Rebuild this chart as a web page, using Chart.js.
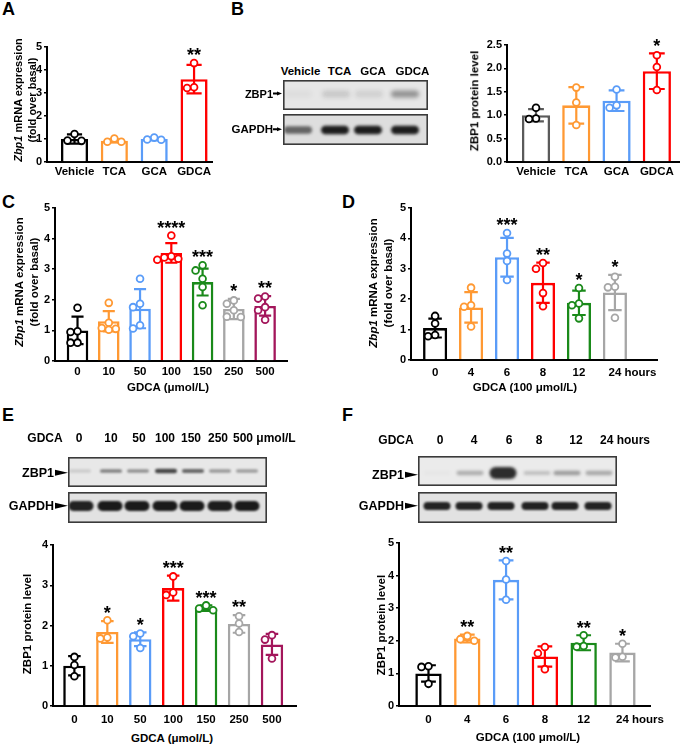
<!DOCTYPE html>
<html><head><meta charset="utf-8">
<script src="https://cdn.jsdelivr.net/npm/chart.js@4.4.0/dist/chart.umd.min.js"></script>
<style>
html,body{margin:0;padding:0;background:#fff;}
#root{position:relative;width:685px;height:746px;overflow:hidden;font-family:Arial,"Liberation Sans",Helvetica,sans-serif;font-weight:bold;color:#000;}
.t{position:absolute;white-space:nowrap;line-height:1;transform:translate(-50%,-50%);}
.r{transform:translate(-50%,-50%) rotate(-90deg);text-align:center;}
.lt{position:absolute;white-space:nowrap;line-height:1;transform:translate(0,-50%);}
.rt{position:absolute;white-space:nowrap;line-height:1;transform:translate(0,-50%);text-align:right;}
.lab{position:absolute;font-size:18px;line-height:1;}
.arr{display:inline-block;width:0;height:0;border-top:3.5px solid transparent;border-bottom:3.5px solid transparent;border-left:13px solid #000;vertical-align:middle;margin-left:1px;position:relative;top:-1px;}
.arrs{display:inline-block;width:4px;height:1.5px;background:#000;vertical-align:middle;position:relative;top:-1px;}
.arrs2{display:inline-block;width:0;height:0;border-top:2.5px solid transparent;border-bottom:2.5px solid transparent;border-left:5px solid #000;vertical-align:middle;position:relative;top:-1px;}
canvas{position:absolute;}
</style></head><body><div id="root"></div>
<script>
// ---------- DATA ----------
// Panel A: Zbp1 mRNA, bile acids
const catsA = ['Vehicle','TCA','GCA','GDCA'];
const meanA = [1.0, 0.92, 1.0, 3.6];
const sdA   = [0.2, 0.07, 0.05, 0.62];
const ptsA  = [[1.22,0.93,0.92],[1.02,0.88,0.88],[1.06,0.98,0.97],[4.3,3.25,3.22]];
const starsA = ['','','','**'];
// Panel B: ZBP1 protein, bile acids
const catsB = ['Vehicle','TCA','GCA','GDCA'];
const meanB = [1.0, 1.21, 1.31, 1.94];
const sdB   = [0.13, 0.39, 0.22, 0.38];
const ptsB  = [[1.16,0.93,0.92],[1.59,1.27,0.79],[1.55,1.21,1.16],[2.28,2.03,1.54]];
const starsB = ['','','','*'];
// Panel C: Zbp1 mRNA, GDCA dose
const catsC = ['0','10','50','100','150','250','500'];
const meanC = [1.0, 1.3, 1.71, 3.53, 2.58, 1.7, 1.8];
const sdC   = [0.45, 0.33, 0.64, 0.32, 0.44, 0.33, 0.32];
const ptsC  = [[1.74,0.97,0.95,0.6,0.6],[1.9,1.25,1.08,1.02,1.05],[2.69,1.87,1.76,1.17,1.06],[4.1,3.42,3.38,3.34,3.31],[3.13,2.96,2.69,2.42,1.82],[1.98,1.87,1.66,1.44,1.45],[2.11,2.04,1.76,1.66,1.35]];
const starsC = ['','','','****','***','*','**'];
// Panel D: Zbp1 mRNA, GDCA time
const catsD = ['0','4','6','8','12','24'];
const meanD = [1.05, 1.73, 3.38, 2.54, 1.88, 2.22];
const sdD   = [0.31, 0.5, 0.64, 0.66, 0.4, 0.58];
const ptsD  = [[1.45,1.2,0.82,0.78],[2.38,1.8,1.75,1.1],[4.18,3.5,3.26,2.63],[3.19,3.0,2.2,1.77],[2.37,1.86,1.8,1.37],[2.74,2.41,2.39,1.39]];
const starsD = ['','','***','**','*','*'];
// Panel E: ZBP1 protein, GDCA dose
const catsE = ['0','10','50','100','150','250','500'];
const meanE = [1.0, 1.84, 1.66, 2.93, 2.43, 2.04, 1.53];
const sdE   = [0.24, 0.27, 0.17, 0.31, 0.07, 0.22, 0.26];
const ptsE  = [[1.22,1.02,0.74],[2.13,1.7,1.68],[1.8,1.73,1.44],[3.22,2.82,2.76],[2.5,2.42,2.38],[2.23,2.05,1.84],[1.76,1.65,1.18]];
const starsE = ['','*','*','***','***','**',''];
// Panel F: ZBP1 protein, GDCA time
const catsF = ['0','4','6','8','12','24'];
const meanF = [1.0, 2.07, 3.87, 1.52, 1.94, 1.64];
const sdF   = [0.25, 0.12, 0.6, 0.31, 0.23, 0.27];
const ptsF  = [[1.22,1.2,0.68],[2.15,2.05,2.0],[4.45,3.88,3.26],[1.81,1.62,1.13],[2.17,1.84,1.82],[1.91,1.51,1.49]];
const starsF = ['','**','**','','**','*'];
// Western blot band intensities (0..1)
const blotB_ZBP1  = [0.04, 0.14, 0.1, 0.4];
const blotB_GAPDH = [0.6, 0.95, 0.95, 0.95];
const blotE_ZBP1  = [0.12, 0.48, 0.4, 0.75, 0.6, 0.36, 0.34];
const blotE_GAPDH = [0.93, 0.96, 0.96, 0.96, 0.96, 0.95, 0.96];
const blotF_ZBP1  = [0.02, 0.28, 0.88, 0.2, 0.36, 0.3];
const blotF_GAPDH = [0.92, 0.92, 0.93, 0.93, 0.93, 0.92];

// ---------- STYLE / LAYOUT ----------
const FONT = 'Arial, "Liberation Sans", Helvetica, sans-serif';
Chart.defaults.font.family = FONT;
Chart.defaults.color = '#000';
const BLACK='#000000', ORANGE='#FF9933', BLUE='#5A9CF8', RED='#FF0000', GREEN='#1A8A1A', GRAY='#A6A6A6', MAROON='#A3165B';
const root = document.getElementById('root');
const YW=40, PT=14, PR=22, XH=26, DOT=7;

function build(P){
  const [l,t,r,b] = P.box;
  const L=l-YW, T=t-PT, W=r-l+YW+PR, H=b-t+PT+XH;
  const cv=document.createElement('canvas');
  cv.width=W; cv.height=H;
  Object.assign(cv.style,{left:L+'px',top:T+'px',width:W+'px',height:H+'px'});
  root.appendChild(cv);
  const plotW=r-l, plotH=b-t;
  const spacing=plotW/(P.xr[1]-P.xr[0]);
  const scatter=[], scCol=[];
  P.pts.forEach((arr,i)=>{
    const placed=[];
    const order=arr.map((v,k)=>k).sort((a,c)=>arr[c]-arr[a]);
    order.forEach(k=>{
      const py=arr[k]/P.ymax*plotH;
      let ox=0;
      for(const c of [0,-1,1,-2,2]){
        const x=c*DOT;
        if(placed.every(p=>Math.hypot(p.x-x,p.y-py)>=DOT)){ox=x;break;}
      }
      placed.push({x:ox,y:py});
      scatter.push({x:i+ox/spacing,y:arr[k]});
      scCol.push(P.ptColors[i]);
    });
  });
  const tickFontX={family:FONT,size:11.5,weight:'bold'};
  new Chart(cv,{
    type:'bar',
    data:{datasets:[
      {type:'bar',data:P.mean.map((m,i)=>({x:i,y:m})),backgroundColor:'#ffffff',borderColor:P.colors,
       borderWidth:2.6,borderSkipped:'bottom',barPercentage:P.bar,categoryPercentage:1,order:2},
      {type:'scatter',data:scatter,pointRadius:3.4,pointHoverRadius:3.4,pointBorderWidth:1.8,
       pointBackgroundColor:'#ffffff',pointBorderColor:scCol,order:1}
    ]},
    options:{
      responsive:false,animation:false,events:[],
      layout:{padding:{top:PT,right:PR,left:0,bottom:0}},
      plugins:{legend:{display:false},tooltip:{enabled:false}},
      scales:{
        x:{type:'linear',min:P.xr[0],max:P.xr[1],z:1,offset:false,
           grid:{display:false,drawTicks:false,offset:false},
           border:{display:true,color:'#000',width:2},
           afterBuildTicks:s=>{s.ticks=P.cats.map((c,i)=>({value:i}));},
           afterFit:s=>{s.height=XH;},
           ticks:{callback:v=>P.cats[v]??'',font:tickFontX,color:'#000',padding:P.lpad,maxRotation:0,autoSkip:false}},
        y:{min:0,max:P.ymax,
           ticks:{stepSize:P.step,callback:v=>P.dec?v.toFixed(1):String(v),font:{family:FONT,size:11,weight:'bold'},color:'#000',padding:2},
           grid:{display:true,drawOnChartArea:false,drawTicks:true,tickLength:3,color:'#000',lineWidth:1.5},
           border:{display:true,color:'#000',width:2},
           afterFit:s=>{s.width=YW;}}
      }
    },
    plugins:[{
      id:'extras',
      afterDatasetDraw(ch,args){
        if(args.index!==0) return;
        const ctx=ch.ctx, xs=ch.scales.x, ys=ch.scales.y;
        const bw=spacing*P.bar;
        ctx.save(); ctx.lineWidth=2.2; ctx.lineCap='butt';
        P.mean.forEach((m,i)=>{
          const x=xs.getPixelForValue(i);
          const y1=ys.getPixelForValue(m+P.sd[i]), y0=ys.getPixelForValue(Math.max(0,m-P.sd[i]));
          const hw=bw*0.28;
          ctx.strokeStyle=P.colors[i];
          ctx.beginPath();
          ctx.moveTo(x,y0);ctx.lineTo(x,y1);
          ctx.moveTo(x-hw,y1);ctx.lineTo(x+hw,y1);
          ctx.moveTo(x-hw,y0);ctx.lineTo(x+hw,y0);
          ctx.stroke();
        });
        ctx.restore();
      },
      afterDatasetsDraw(ch){
        const ctx=ch.ctx, xs=ch.scales.x, ys=ch.scales.y;
        ctx.save();
        ctx.font='bold 18px '+FONT; ctx.fillStyle='#000'; ctx.textAlign='center'; ctx.textBaseline='alphabetic';
        P.stars.forEach((s,i)=>{
          if(!s) return;
          const top=Math.max(P.mean[i]+P.sd[i],...P.pts[i]);
          const y=ys.getPixelForValue(top)-12+0.57*18;
          ctx.fillText(s,xs.getPixelForValue(i),y);
        });
        ctx.restore();
      },
      afterDraw(ch){
        if(!P.suffix) return;
        const ctx=ch.ctx, xs=ch.scales.x;
        const items=xs.getLabelItems();
        const it=items[items.length-1];
        ctx.save();
        ctx.font='bold 11.5px '+FONT; ctx.fillStyle='#000';
        const w=ctx.measureText(P.cats[P.cats.length-1]).width;
        ctx.textAlign='left'; ctx.textBaseline=it.options.textBaseline||'top';
        ctx.fillText(' '+P.suffix,it.options.translation[0]+w/2,it.options.translation[1]+(it.textOffset||0));
        ctx.restore();
      }
    }]
  });
}

build({box:[47,47,212,162],xr:[-0.69,3.45],ymax:5,step:1,dec:false,cats:catsA,mean:meanA,sd:sdA,pts:ptsA,stars:starsA,
  colors:[BLACK,ORANGE,BLUE,RED],ptColors:[BLACK,ORANGE,BLUE,RED],bar:0.68,lpad:3});
build({box:[507,45,679,162],xr:[-0.72,3.55],ymax:2.5,step:0.5,dec:true,cats:catsB,mean:meanB,sd:sdB,pts:ptsB,stars:starsB,
  colors:['#5a5a5a',ORANGE,BLUE,RED],ptColors:[BLACK,ORANGE,BLUE,RED],bar:0.7,lpad:3});
build({box:[55,208,287,361],xr:[-0.72,6.7],ymax:5,step:1,dec:false,cats:catsC,mean:meanC,sd:sdC,pts:ptsC,stars:starsC,
  colors:[BLACK,ORANGE,BLUE,RED,GREEN,GRAY,MAROON],ptColors:[BLACK,ORANGE,BLUE,RED,GREEN,GRAY,MAROON],bar:0.69,lpad:4});
build({box:[411,208,657,360],xr:[-0.67,6.17],ymax:5,step:1,dec:false,cats:catsD,mean:meanD,sd:sdD,pts:ptsD,stars:starsD,
  colors:[BLACK,ORANGE,BLUE,RED,GREEN,GRAY],ptColors:[BLACK,ORANGE,BLUE,RED,GREEN,GRAY],bar:0.67,suffix:'hours',lpad:6});
build({box:[53,545,296,706],xr:[-0.65,6.73],ymax:4,step:1,dec:false,cats:catsE,mean:meanE,sd:sdE,pts:ptsE,stars:starsE,
  colors:[BLACK,ORANGE,BLUE,RED,GREEN,GRAY,MAROON],ptColors:[BLACK,ORANGE,BLUE,RED,GREEN,GRAY,MAROON],bar:0.68,lpad:7});
build({box:[399,543,650,706],xr:[-0.76,5.71],ymax:5,step:1,dec:false,cats:catsF,mean:meanF,sd:sdF,pts:ptsF,stars:starsF,
  colors:[BLACK,ORANGE,BLUE,RED,GREEN,GRAY],ptColors:[BLACK,ORANGE,BLUE,RED,GREEN,GRAY],bar:0.68,suffix:'hours',lpad:7});

// ---------- BLOTS ----------
function blot(box,lanes,intens,o){
  const [l,t,r,b]=box, w=r-l, h=b-t;
  const cv=document.createElement('canvas'); cv.width=w; cv.height=h;
  Object.assign(cv.style,{left:l+'px',top:t+'px',width:w+'px',height:h+'px'});
  root.appendChild(cv);
  const ctx=cv.getContext('2d');
  ctx.fillStyle=o.bg; ctx.fillRect(0,0,w,h);
  ctx.filter='blur('+o.blur+'px)';
  lanes.forEach((x,i)=>{
    const a=intens[i]; if(a<=0.01) return;
    const bh=o.h+o.hg*a*a*a, bw=o.w;
    ctx.fillStyle='rgba(18,18,18,'+a+')';
    ctx.beginPath();
    if(ctx.roundRect) ctx.roundRect(x-l-bw/2,o.cy-bh/2,bw,bh,Math.min(bh/2,bw/2));
    else ctx.ellipse(x-l,o.cy,bw/2,bh/2,0,0,Math.PI*2);
    ctx.fill();
  });
  ctx.filter='none';
  ctx.strokeStyle='#3a3a3a'; ctx.lineWidth=1.6; ctx.strokeRect(0.8,0.8,w-1.6,h-1.6);
}
blot([283,80,428,110],[298,336,369,405],blotB_ZBP1,{bg:'#e6e6e6',w:28,h:7,hg:3,cy:14,blur:2.2});
blot([283,114,428,145],[298,335,368,405],blotB_GAPDH,{bg:'#dedede',w:28,h:7,hg:2,cy:16,blur:1.5});
blot([68,457,267,487],[80,111,138,166,193,220,247],blotE_ZBP1,{bg:'#e8e8e8',w:22,h:3.5,hg:2,cy:14,blur:1.3});
blot([68,492,267,523],[81,110,137,165,192,220,247],blotE_GAPDH,{bg:'#e2e2e2',w:25,h:9,hg:1,cy:14,blur:1.2});
blot([418,456,617,486],[437,470,503,537,567,599],blotF_ZBP1,{bg:'#ebebeb',w:27,h:4,hg:12,cy:17,blur:1.8});
blot([418,492,617,523],[437,469,501,535,565,598],blotF_GAPDH,{bg:'#e2e2e2',w:27,h:8,hg:0,cy:14,blur:1.2});

// ---------- TEXT ----------
function txt(html,cls,x,y,size,extra){
  const d=document.createElement('div'); d.className=cls; d.innerHTML=html;
  d.style.left=x+'px'; d.style.top=y+'px'; if(size) d.style.fontSize=size+'px';
  if(extra) Object.assign(d.style,extra);
  root.appendChild(d); return d;
}
// panel letters
[['A',2,0],['B',231,0],['C',2,193],['D',342,193],['E',2,406],['F',342,406]].forEach(p=>txt(p[0],'lab',p[1],p[2]));
// y titles
txt('<i>Zbp1</i> mRNA expression<br>(fold over basal)','t r',25,100,11,{lineHeight:'14px'});
txt('ZBP1 protein level','t r',475,101,11.5);
txt('<i>Zbp1</i> mRNA expression<br>(fold over basal)','t r',26,282,11.5,{lineHeight:'14.5px'});
txt('<i>Zbp1</i> mRNA expression<br>(fold over basal)','t r',381,283,11.5,{lineHeight:'15px'});
txt('ZBP1 protein level','t r',28,624,11.5);
txt('ZBP1 protein level','t r',382,625,11.5);
// x titles
txt('GDCA (μmol/L)','t',168,388,11.5);
txt('GDCA (100 μmol/L)','t',525,388,11.5);
txt('GDCA (μmol/L)','t',172,739,11.5);
txt('GDCA (100 μmol/L)','t',528,738,11.5);
// blot B labels
[['Vehicle',300.5],['TCA',339.5],['GCA',373],['GDCA',412.5]].forEach(p=>txt(p[0],'t',p[1],72,11.5));
txt('ZBP1<span class="arrs"></span><span class="arrs2"></span>','rt',0,94,11,{left:'auto',right:(685-282)+'px'});
txt('GAPDH<span class="arrs"></span><span class="arrs2"></span>','rt',0,130,11.5,{left:'auto',right:(685-282)+'px'});
// blot E labels
txt('GDCA','t',45,438,12);
[['0',79],['10',111],['50',139],['100',165],['150',191],['250',218]].forEach(p=>txt(p[0],'t',p[1],438,12));
txt('500 μmol/L','lt',233,438,12);
txt('ZBP1<span class="arr"></span>','rt',0,473,12.5,{left:'auto',right:(685-68)+'px'});
txt('GAPDH<span class="arr"></span>','rt',0,506,12.5,{left:'auto',right:(685-68)+'px'});
// blot F labels
txt('GDCA','t',396,440,12);
[['0',440],['4',474],['6',509],['8',539],['12',576]].forEach(p=>txt(p[0],'t',p[1],440,12));
txt('24 hours','lt',600,440,12);
txt('ZBP1<span class="arr"></span>','rt',0,475,12.5,{left:'auto',right:(685-418)+'px'});
txt('GAPDH<span class="arr"></span>','rt',0,506,12.5,{left:'auto',right:(685-418)+'px'});
</script>
</body></html>
